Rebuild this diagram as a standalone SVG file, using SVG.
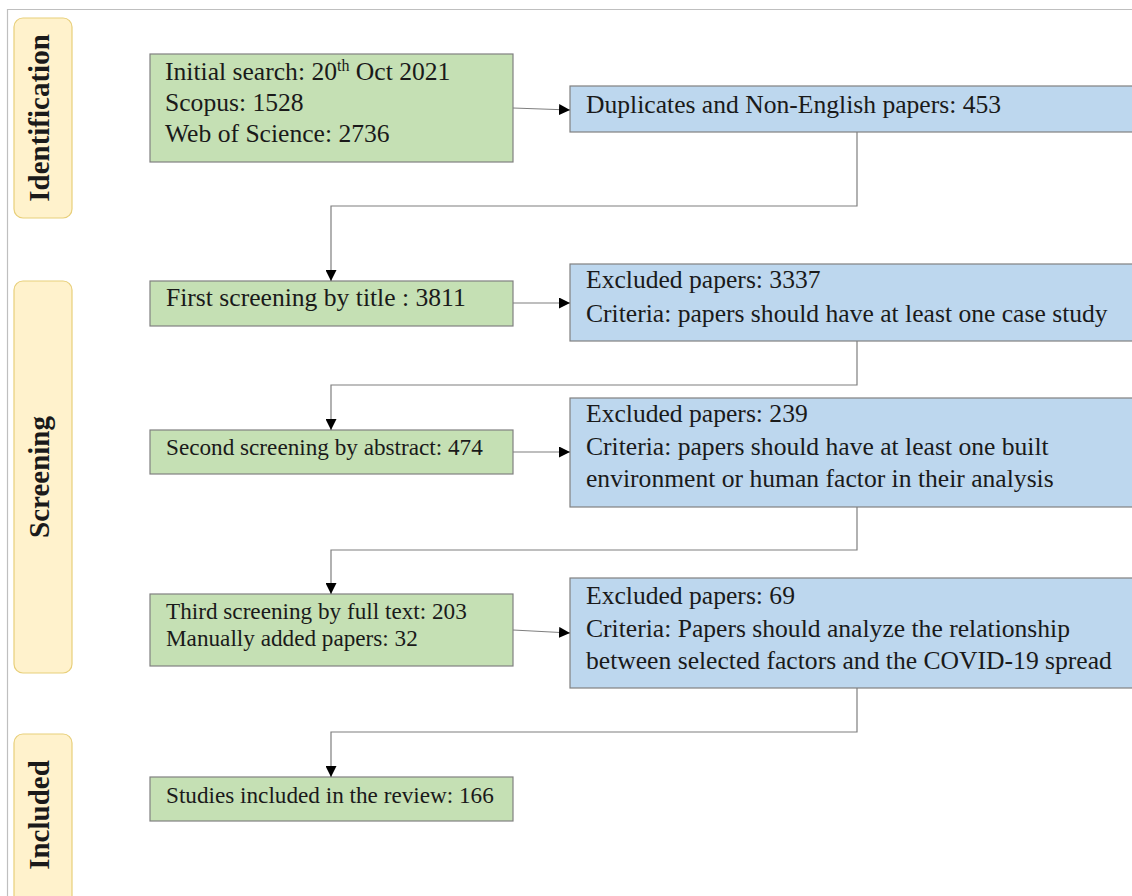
<svg xmlns="http://www.w3.org/2000/svg" width="1132" height="896" viewBox="0 0 1132 896">
<defs>
<style>
.g{fill:#C5E0B4;stroke:#808080;stroke-width:1.2}
.b{fill:#BDD7EE;stroke:#808080;stroke-width:1.2}
.l{fill:#FFF2CC;stroke:#E8CF7A;stroke-width:1.2}
.t{font-family:"Liberation Serif","Times New Roman",serif;font-size:25.6px;fill:#1a1a1a}
.s{font-size:23.2px}
.h{font-family:"Liberation Serif","Times New Roman",serif;font-size:29px;font-weight:bold;fill:#1a1a1a}
.c{fill:none;stroke:#7f7f7f;stroke-width:1.2}
</style>
<marker id="ah" viewBox="0 0 10 10" refX="10" refY="5" markerWidth="11" markerHeight="11" markerUnits="userSpaceOnUse" orient="auto">
<path d="M0,0 L10,5 L0,10 z" fill="#000"/>
</marker>
</defs>
<rect width="1132" height="896" fill="#fff"/>
<path d="M7.5,896 V9.5 H1132" fill="none" stroke="#BFBFBF" stroke-width="1.2"/>

<g id="lbl-identification">
<rect class="l" x="14" y="18" width="58" height="200" rx="9"/>
<text class="h" transform="translate(49,118) rotate(-90)" text-anchor="middle">Identification</text>
</g>
<g id="lbl-screening">
<rect class="l" x="14" y="281" width="58" height="392" rx="9"/>
<text class="h" transform="translate(49,477) rotate(-90)" text-anchor="middle">Screening</text>
</g>
<g id="lbl-included">
<rect class="l" x="14" y="734" width="58" height="175" rx="9"/>
<text class="h" transform="translate(49,815) rotate(-90)" text-anchor="middle">Included</text>
</g>

<g id="n-initial">
<rect class="g" x="150" y="54" width="363" height="108"/>
<text class="t" x="165" y="80">Initial search: 20<tspan font-size="16" dy="-9">th</tspan><tspan dy="9"> Oct 2021</tspan></text>
<text class="t" x="165" y="111">Scopus: 1528</text>
<text class="t" x="165" y="142">Web of Science: 2736</text>
</g>
<g id="n-dup">
<rect class="b" x="570" y="86" width="570" height="46"/>
<text class="t" x="586" y="113">Duplicates and Non-English papers: 453</text>
</g>
<g id="n-first">
<rect class="g" x="150" y="281" width="363" height="45"/>
<text class="t" x="166" y="306">First screening by title : 3811</text>
</g>
<g id="n-ex1">
<rect class="b" x="570" y="264" width="570" height="77"/>
<text class="t" x="586" y="288">Excluded papers: 3337</text>
<text class="t" x="586" y="322">Criteria: papers should have at least one case study</text>
</g>
<g id="n-second">
<rect class="g" x="150" y="430" width="363" height="44"/>
<text class="t s" x="166" y="455">Second screening by abstract: 474</text>
</g>
<g id="n-ex2">
<rect class="b" x="570" y="398" width="570" height="109"/>
<text class="t" x="586" y="422">Excluded papers: 239</text>
<text class="t" x="586" y="455">Criteria: papers should have at least one built</text>
<text class="t" x="586" y="487">environment or human factor in their analysis</text>
</g>
<g id="n-third">
<rect class="g" x="150" y="594" width="363" height="72"/>
<text class="t s" x="166" y="619">Third screening by full text: 203</text>
<text class="t s" x="166" y="646">Manually added papers: 32</text>
</g>
<g id="n-ex3">
<rect class="b" x="570" y="578" width="570" height="110"/>
<text class="t" x="586" y="604">Excluded papers: 69</text>
<text class="t" x="586" y="637">Criteria: Papers should analyze the relationship</text>
<text class="t" x="586" y="669">between selected factors and the COVID-19 spread</text>
</g>
<g id="n-included">
<rect class="g" x="150" y="777" width="363" height="44"/>
<text class="t s" x="166" y="803">Studies included in the review: 166</text>
</g>

<g id="connectors">
<path class="c" d="M513,108 L570,110" marker-end="url(#ah)"/>
<path class="c" d="M857,132 V206 H331 V281" marker-end="url(#ah)"/>
<path class="c" d="M513,303 H570" marker-end="url(#ah)"/>
<path class="c" d="M857,341 V385 H331 V430" marker-end="url(#ah)"/>
<path class="c" d="M513,452 H570" marker-end="url(#ah)"/>
<path class="c" d="M857,507 V550 H331 V594" marker-end="url(#ah)"/>
<path class="c" d="M513,630 L570,633" marker-end="url(#ah)"/>
<path class="c" d="M857,688 V732 H331 V777" marker-end="url(#ah)"/>
</g>
</svg>
